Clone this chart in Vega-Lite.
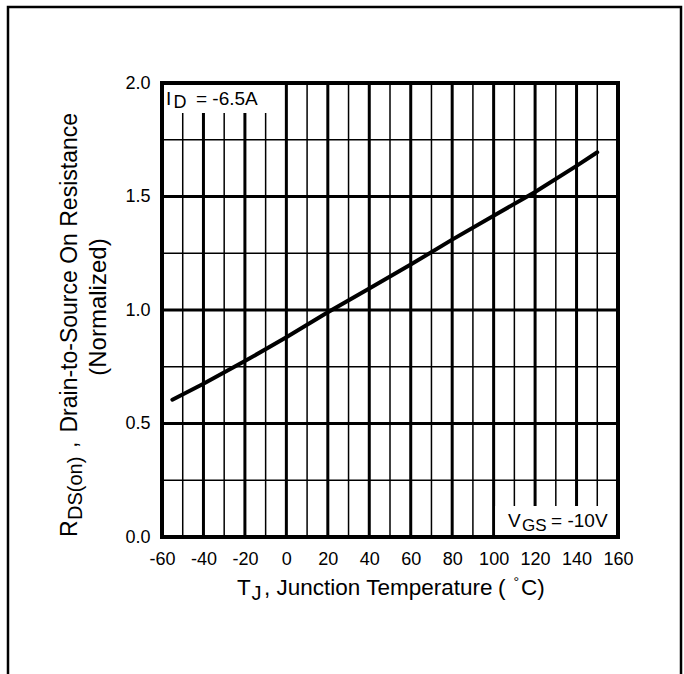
{
  "$schema": "https://vega.github.io/schema/vega-lite/v6.json",
  "width": 456,
  "height": 454,
  "autosize": {"type": "none"},
  "padding": {"left": 162, "top": 83, "right": 66, "bottom": 137},
  "background": "white",
  "data": {"values": [{}]},
  "config": {
    "font": "Liberation Sans",
    "view": {"stroke": null},
    "text": {"font": "Liberation Sans", "color": "black"}
  },
  "datasets": {
    "rds": [
      {"tj": -55, "rds": 0.605},
      {"tj": -40, "rds": 0.675},
      {"tj": -20, "rds": 0.775},
      {"tj": 0, "rds": 0.88},
      {"tj": 20, "rds": 0.99},
      {"tj": 40, "rds": 1.095},
      {"tj": 60, "rds": 1.2},
      {"tj": 80, "rds": 1.31},
      {"tj": 100, "rds": 1.415},
      {"tj": 120, "rds": 1.52},
      {"tj": 140, "rds": 1.635},
      {"tj": 150, "rds": 1.695}
    ],
    "tgrid": [
      {"t": -50}, {"t": -40}, {"t": -30}, {"t": -20}, {"t": -10}, {"t": 0},
      {"t": 10}, {"t": 20}, {"t": 30}, {"t": 40}, {"t": 50}, {"t": 60},
      {"t": 70}, {"t": 80}, {"t": 90}, {"t": 100}, {"t": 110}, {"t": 120},
      {"t": 130}, {"t": 140}, {"t": 150}
    ],
    "rgrid": [
      {"r": 0.25}, {"r": 0.5}, {"r": 0.75}, {"r": 1.0},
      {"r": 1.25}, {"r": 1.5}, {"r": 1.75}
    ]
  },
  "layer": [
    {
      "data": {"name": "tgrid"},
      "mark": {"type": "rule", "color": "black"},
      "encoding": {
        "x": {"field": "t", "type": "quantitative", "title": null},
        "strokeWidth": {"condition": {"test": "datum.t % 20 === 0", "value": 3}, "value": 1.5}
      }
    },
    {
      "data": {"name": "rgrid"},
      "mark": {"type": "rule", "color": "black"},
      "encoding": {
        "y": {"field": "r", "type": "quantitative", "title": null},
        "strokeWidth": {"condition": {"test": "datum.r % 0.5 === 0", "value": 3}, "value": 1.5}
      }
    },
    {
      "mark": {"type": "rect", "fill": "white", "stroke": null},
      "encoding": {
        "x": {"datum": -60, "type": "quantitative", "title": null},
        "x2": {"datum": -1.6},
        "y": {"datum": 1.868, "type": "quantitative", "title": null},
        "y2": {"datum": 2.0}
      }
    },
    {
      "mark": {"type": "rect", "fill": "white", "stroke": null},
      "encoding": {
        "x": {"datum": 100.8, "type": "quantitative", "title": null},
        "x2": {"datum": 160},
        "y": {"datum": 0, "type": "quantitative", "title": null},
        "y2": {"datum": 0.137}
      }
    },
    {
      "data": {"name": "rds"},
      "mark": {"type": "line", "color": "black", "strokeWidth": 4, "strokeCap": "round", "clip": false},
      "encoding": {
        "x": {
          "field": "tj", "type": "quantitative", "title": null,
          "scale": {"domain": [-60, 160], "nice": false, "zero": false},
          "axis": {
            "title": null,
            "values": [-60, -40, -20, 0, 20, 40, 60, 80, 100, 120, 140, 160],
            "labelExpr": "toString(datum.value)",
            "domain": false,
            "ticks": false,
            "grid": false,
            "labelFlush": false,
            "labelOverlap": false,
            "labelFontSize": 18,
            "labelColor": "black",
            "labelPadding": 13
          }
        },
        "y": {
          "field": "rds", "type": "quantitative", "title": null,
          "scale": {"domain": [0, 2], "nice": false, "zero": false},
          "axis": {
            "title": null,
            "values": [0, 0.5, 1, 1.5, 2],
            "labelExpr": "format(datum.value, '.1f')",
            "domain": false,
            "ticks": false,
            "grid": false,
            "labelFlush": false,
            "labelOverlap": false,
            "labelFontSize": 18,
            "labelColor": "black",
            "labelPadding": 12
          }
        }
      }
    },
    {
      "mark": {"type": "rect", "fill": null, "stroke": "black", "strokeWidth": 4, "clip": false},
      "encoding": {
        "x": {"datum": -60, "type": "quantitative", "title": null},
        "x2": {"datum": 160},
        "y": {"datum": 0, "type": "quantitative", "title": null},
        "y2": {"datum": 2}
      }
    },
    {
      "mark": {"type": "rect", "fill": null, "stroke": "black", "strokeWidth": 2.5, "clip": false},
      "encoding": {
        "x": {"datum": -134.3, "type": "quantitative", "title": null},
        "x2": {"datum": 190.4},
        "y": {"datum": 2.335, "type": "quantitative", "title": null},
        "y2": {"datum": -0.75}
      }
    },
    {
      "mark": {"type": "text", "align": "left", "baseline": "alphabetic", "fontSize": 19},
      "encoding": {
        "x": {"datum": -58.1, "type": "quantitative", "title": null},
        "y": {"datum": 1.903, "type": "quantitative", "title": null},
        "text": {"value": "I"}
      }
    },
    {
      "mark": {"type": "text", "align": "left", "baseline": "alphabetic", "fontSize": 18},
      "encoding": {
        "x": {"datum": -54.4, "type": "quantitative", "title": null},
        "y": {"datum": 1.89, "type": "quantitative", "title": null},
        "text": {"value": "D"}
      }
    },
    {
      "mark": {"type": "text", "align": "left", "baseline": "alphabetic", "fontSize": 19},
      "encoding": {
        "x": {"datum": -43.6, "type": "quantitative", "title": null},
        "y": {"datum": 1.903, "type": "quantitative", "title": null},
        "text": {"value": "= -6.5A"}
      }
    },
    {
      "mark": {"type": "text", "align": "left", "baseline": "alphabetic", "fontSize": 19},
      "encoding": {
        "x": {"datum": 106.9, "type": "quantitative", "title": null},
        "y": {"datum": 0.044, "type": "quantitative", "title": null},
        "text": {"value": "V"}
      }
    },
    {
      "mark": {"type": "text", "align": "left", "baseline": "alphabetic", "fontSize": 17},
      "encoding": {
        "x": {"datum": 113.7, "type": "quantitative", "title": null},
        "y": {"datum": 0.0264, "type": "quantitative", "title": null},
        "text": {"value": "GS"}
      }
    },
    {
      "mark": {"type": "text", "align": "left", "baseline": "alphabetic", "fontSize": 19},
      "encoding": {
        "x": {"datum": 127.7, "type": "quantitative", "title": null},
        "y": {"datum": 0.044, "type": "quantitative", "title": null},
        "text": {"value": "= -10V"}
      }
    },
    {
      "mark": {"type": "text", "align": "left", "baseline": "alphabetic", "fontSize": 22.5},
      "encoding": {
        "x": {"datum": -23.8, "type": "quantitative", "title": null},
        "y": {"datum": -0.2555, "type": "quantitative", "title": null},
        "text": {"value": "T"}
      }
    },
    {
      "mark": {"type": "text", "align": "left", "baseline": "alphabetic", "fontSize": 20},
      "encoding": {
        "x": {"datum": -16.8, "type": "quantitative", "title": null},
        "y": {"datum": -0.2775, "type": "quantitative", "title": null},
        "text": {"value": "J"}
      }
    },
    {
      "mark": {"type": "text", "align": "left", "baseline": "alphabetic", "fontSize": 22.5},
      "encoding": {
        "x": {"datum": -10.8, "type": "quantitative", "title": null},
        "y": {"datum": -0.2555, "type": "quantitative", "title": null},
        "text": {"value": ", Junction Temperature"}
      }
    },
    {
      "mark": {"type": "text", "align": "left", "baseline": "alphabetic", "fontSize": 22.5},
      "encoding": {
        "x": {"datum": 102.1, "type": "quantitative", "title": null},
        "y": {"datum": -0.2555, "type": "quantitative", "title": null},
        "text": {"value": "("}
      }
    },
    {
      "mark": {"type": "text", "align": "left", "baseline": "alphabetic", "fontSize": 14},
      "encoding": {
        "x": {"datum": 109.6, "type": "quantitative", "title": null},
        "y": {"datum": -0.2203, "type": "quantitative", "title": null},
        "text": {"value": "°"}
      }
    },
    {
      "mark": {"type": "text", "align": "left", "baseline": "alphabetic", "fontSize": 22.5},
      "encoding": {
        "x": {"datum": 113.2, "type": "quantitative", "title": null},
        "y": {"datum": -0.2555, "type": "quantitative", "title": null},
        "text": {"value": "C)"}
      }
    },
    {
      "mark": {"type": "text", "align": "left", "baseline": "alphabetic", "fontSize": 23, "angle": 270},
      "encoding": {
        "x": {"datum": -101.0, "type": "quantitative", "title": null},
        "y": {"datum": 0.0, "type": "quantitative", "title": null},
        "text": {"value": "R"}
      }
    },
    {
      "mark": {"type": "text", "align": "left", "baseline": "alphabetic", "fontSize": 20, "angle": 270},
      "encoding": {
        "x": {"datum": -98.8, "type": "quantitative", "title": null},
        "y": {"datum": 0.075, "type": "quantitative", "title": null},
        "text": {"value": "DS(on)"}
      }
    },
    {
      "mark": {"type": "text", "align": "left", "baseline": "alphabetic", "fontSize": 23, "angle": 270},
      "encoding": {
        "x": {"datum": -101.0, "type": "quantitative", "title": null},
        "y": {"datum": 0.392, "type": "quantitative", "title": null},
        "text": {"value": ","}
      }
    },
    {
      "mark": {"type": "text", "align": "right", "baseline": "alphabetic", "fontSize": 23, "angle": 270},
      "encoding": {
        "x": {"datum": -101.0, "type": "quantitative", "title": null},
        "y": {"datum": 1.868, "type": "quantitative", "title": null},
        "text": {"value": "Drain-to-Source On Resistance"}
      }
    },
    {
      "mark": {"type": "text", "align": "center", "baseline": "alphabetic", "fontSize": 24, "angle": 270},
      "encoding": {
        "x": {"datum": -87.0, "type": "quantitative", "title": null},
        "y": {"datum": 1.013, "type": "quantitative", "title": null},
        "text": {"value": "(Normalized)"}
      }
    }
  ]
}
